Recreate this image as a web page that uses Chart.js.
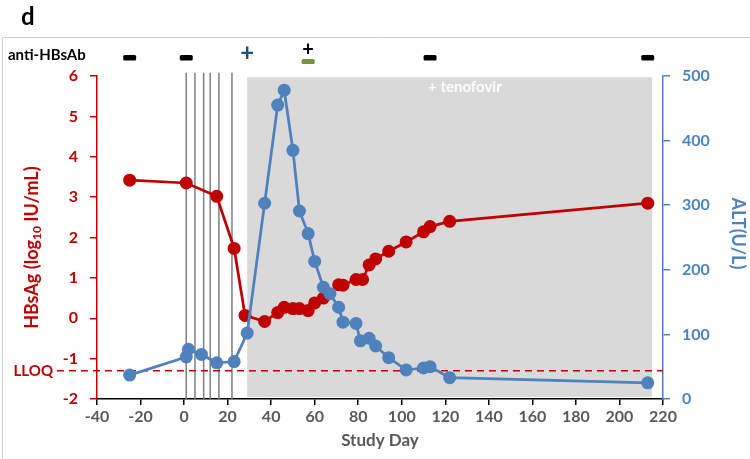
<!DOCTYPE html>
<html>
<head>
<meta charset="utf-8">
<script src="https://cdn.jsdelivr.net/npm/chart.js@4/dist/chart.umd.min.js"></script>
<style>
  body { margin: 0; background: #fff; }
  #wrap { width: 750px; height: 459px; }
</style>
</head>
<body>
<div id="wrap"><canvas id="chart" width="750" height="459"></canvas></div>
<script>
// HBsAg (log10 IU/mL) by study day
const hbsagDays = [-25, 1, 15, 23, 28, 37, 43, 46, 50, 53, 57, 60, 64, 71, 73, 79, 82, 85, 88, 94, 102, 110, 113, 122, 213];
const hbsagValues = [3.42, 3.35, 3.02, 1.73, 0.07, -0.08, 0.14, 0.27, 0.24, 0.24, 0.19, 0.38, 0.5, 0.83, 0.82, 0.96, 0.96, 1.32, 1.47, 1.66, 1.89, 2.14, 2.27, 2.4, 2.85];

// ALT (U/L) by study day
const altDays = [-25, 1, 2, 8, 15, 23, 29, 37, 43, 46, 50, 53, 57, 60, 64, 67, 71, 73, 79, 81, 85, 88, 94, 102, 110, 113, 122, 213];
const altValues = [37, 65, 77, 69, 56, 58, 102, 303, 455, 478, 385, 291, 256, 213, 173, 163, 142, 119, 117, 90, 94, 82, 64, 45, 48, 50, 33, 25];

// dosing days, tenofovir window, antibody results
const dosingDays = [1, 5, 9, 12, 16, 22];
const tenofovirDays = [29, 215];
const antibodyDays = [-25, 1, 29, 57, 113, 213];
const antibodyResults = ['-', '-', '+', '±', '-', '-'];
const lloq = -1.3;

const RED = '#c00000';
const BLUE = '#4f81bd';
const FONT = 'Lato, "Open Sans", sans-serif';

function pts(xs, ys) {
    return xs.map((x, i) => ({ x: x, y: ys[i] }));
}

function drawSubTitle(ctx, cx, cy) {
    // rotated left axis title with a subscript "10"
    const parts = [['HBsAg (log', 'bold 18px ' + FONT, 0], ['10', 'bold 12px ' + FONT, 5], [' IU/mL)', 'bold 18px ' + FONT, 0]];
    ctx.save();
    ctx.translate(cx, cy);
    ctx.rotate(-Math.PI / 2);
    ctx.fillStyle = RED;
    ctx.textBaseline = 'middle';
    ctx.textAlign = 'left';
    let total = 0;
    parts.forEach(p => { ctx.font = p[1]; total += ctx.measureText(p[0]).width; });
    let px = -total / 2;
    parts.forEach(p => {
        ctx.font = p[1];
        ctx.fillText(p[0], px, p[2]);
        px += ctx.measureText(p[0]).width;
    });
    ctx.restore();
}

const extras = {
    id: 'extras',
    beforeDatasetsDraw(chart) {
        const { ctx, chartArea, scales: { x, y } } = chart;
        ctx.save();

        // tenofovir window
        const gx0 = x.getPixelForValue(tenofovirDays[0]);
        const gx1 = x.getPixelForValue(tenofovirDays[1]);
        const gy0 = y.getPixelForValue(5.97);
        const gy1 = y.getPixelForValue(-1.95);
        ctx.fillStyle = '#d9d9d9';
        ctx.fillRect(gx0, gy0, gx1 - gx0, gy1 - gy0);
        ctx.fillStyle = 'rgba(255,255,255,0.92)';
        ctx.font = 'bold 15px ' + FONT;
        ctx.textAlign = 'center';
        ctx.textBaseline = 'middle';
        ctx.fillText('+ tenofovir', x.getPixelForValue(129), y.getPixelForValue(5.72));

        // dosing lines
        ctx.strokeStyle = '#7f7f7f';
        ctx.lineWidth = 1.5;
        dosingDays.forEach(d => {
            const px = x.getPixelForValue(d);
            ctx.beginPath();
            ctx.moveTo(px, y.getPixelForValue(6.08));
            ctx.lineTo(px, chartArea.bottom);
            ctx.stroke();
        });

        // LLOQ line
        const ly = y.getPixelForValue(lloq);
        ctx.strokeStyle = RED;
        ctx.lineWidth = 1.5;
        ctx.setLineDash([7, 5]);
        ctx.beginPath();
        ctx.moveTo(57, ly);
        ctx.lineTo(chartArea.right, ly);
        ctx.stroke();
        ctx.setLineDash([]);
        ctx.fillStyle = RED;
        ctx.font = 'bold 15px ' + FONT;
        ctx.textAlign = 'right';
        ctx.fillText('LLOQ', 53, ly);
        ctx.restore();
    },
    afterDraw(chart) {
        const { ctx, chartArea, scales: { x, y } } = chart;
        ctx.save();

        // panel letter and frame
        ctx.fillStyle = '#000';
        ctx.font = 'bold 24px ' + FONT;
        ctx.textAlign = 'left';
        ctx.textBaseline = 'alphabetic';
        ctx.fillText('d', 21, 25);
        ctx.strokeStyle = '#d0d0d0';
        ctx.lineWidth = 1;
        ctx.beginPath();
        ctx.moveTo(750, 37.5);
        ctx.lineTo(2.5, 37.5);
        ctx.lineTo(2.5, 459);
        ctx.stroke();

        // anti-HBsAb row
        const rowY = 55;
        ctx.font = 'bold 15px ' + FONT;
        ctx.textBaseline = 'middle';
        ctx.fillText('anti-HBsAb', 8, rowY);
        ctx.textAlign = 'center';
        antibodyDays.forEach((d, i) => {
            const px = x.getPixelForValue(d);
            const r = antibodyResults[i];
            if (r === '-') {
                ctx.fillStyle = '#000';
                ctx.beginPath();
                ctx.roundRect(px - 6.5, rowY, 13, 5.5, 1.5);
                ctx.fill();
            } else if (r === '+') {
                ctx.fillStyle = '#1f4e79';
                ctx.font = 'bold 24px ' + FONT;
                ctx.fillText('+', px, rowY - 2);
            } else {
                ctx.fillStyle = '#000';
                ctx.font = 'bold 20px ' + FONT;
                ctx.fillText('+', px, rowY - 5);
                ctx.fillStyle = '#77933c';
                ctx.beginPath();
                ctx.roundRect(px - 6.5, rowY + 4, 13, 5, 1.5);
                ctx.fill();
            }
        });

        // axis titles
        drawSubTitle(ctx, 32, y.getPixelForValue(1.75));
        ctx.save();
        ctx.translate(738, y.getPixelForValue(2.1));
        ctx.rotate(Math.PI / 2);
        ctx.fillStyle = BLUE;
        ctx.font = 'bold 18px ' + FONT;
        ctx.textAlign = 'center';
        ctx.textBaseline = 'middle';
        ctx.fillText('ALT(U/L)', 0, 0);
        ctx.restore();

        ctx.fillStyle = '#595959';
        ctx.font = 'bold 17px ' + FONT;
        ctx.textAlign = 'center';
        ctx.textBaseline = 'middle';
        ctx.fillText('Study Day', (chartArea.left + chartArea.right) / 2, 441);
        ctx.restore();
    }
};

const tickFont = { family: FONT, weight: 'bold', size: 16 };

new Chart(document.getElementById('chart'), {
    type: 'line',
    data: {
        datasets: [
            {
                label: 'ALT',
                data: pts(altDays, altValues),
                yAxisID: 'y1',
                borderColor: BLUE,
                backgroundColor: BLUE,
                borderWidth: 2.75,
                pointRadius: 6.5,
                pointBorderWidth: 0,
                pointHoverRadius: 6.5,
                tension: 0
            },
            {
                label: 'HBsAg',
                data: pts(hbsagDays, hbsagValues),
                yAxisID: 'y',
                borderColor: RED,
                backgroundColor: RED,
                borderWidth: 2.75,
                pointRadius: 6.5,
                pointBorderWidth: 0,
                pointHoverRadius: 6.5,
                tension: 0
            }
        ]
    },
    options: {
        responsive: false,
        animation: false,
        devicePixelRatio: 1,
        layout: { padding: { top: 76, left: 0, right: 0, bottom: 0 } },
        plugins: { legend: { display: false }, tooltip: { enabled: false } },
        scales: {
            x: {
                type: 'linear',
                min: -40,
                max: 220,
                ticks: { stepSize: 20, color: '#595959', font: tickFont, padding: 2, maxRotation: 0 },
                grid: { drawOnChartArea: false, tickLength: 6, color: '#000', lineWidth: 1.5 },
                border: { color: '#000', width: 1.5 },
                afterFit(s) { s.height = 60; }
            },
            y: {
                position: 'left',
                min: -2,
                max: 6,
                ticks: { stepSize: 1, color: RED, font: tickFont, padding: 12 },
                grid: { drawOnChartArea: false, tickLength: 7, color: RED, lineWidth: 1.5 },
                border: { color: RED, width: 1.5 },
                afterFit(s) { s.width = 97; }
            },
            y1: {
                position: 'right',
                min: 0,
                max: 500,
                ticks: { stepSize: 100, color: BLUE, font: tickFont, padding: 12 },
                grid: { drawOnChartArea: false, tickLength: 7, color: BLUE, lineWidth: 1.5 },
                border: { color: BLUE, width: 1.5 },
                afterFit(s) { s.width = 87; }
            }
        }
    },
    plugins: [extras]
});
</script>
</body>
</html>
